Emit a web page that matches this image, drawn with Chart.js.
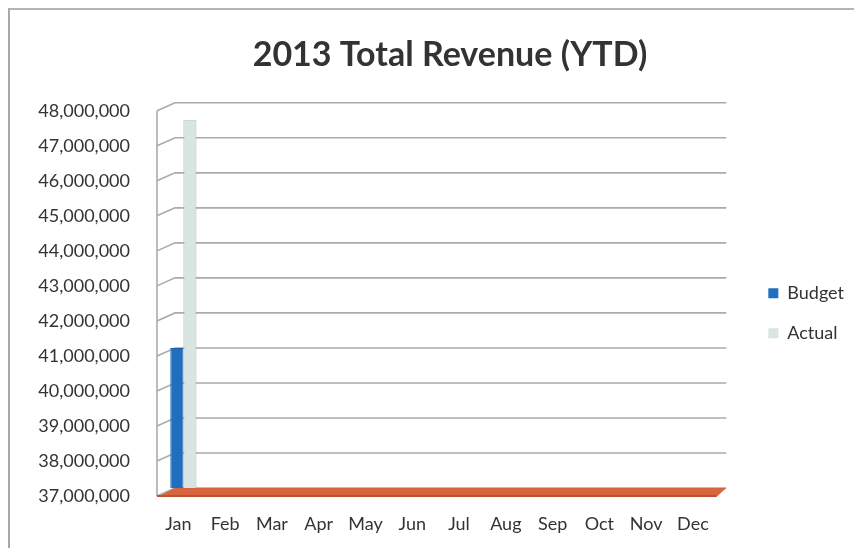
<!DOCTYPE html>
<html>
<head>
<meta charset="utf-8">
<title>2013 Total Revenue (YTD)</title>
<script src="https://cdn.jsdelivr.net/npm/chart.js@4.4.1/dist/chart.umd.min.js"></script>
<style>
  html, body { margin: 0; padding: 0; background: #fff; overflow: hidden; }
  #frame {
    position: absolute; left: 8px; top: 8px;
    width: 846px; height: 540px;
    border-left: 2px solid #a8a8a8;
    border-top: 2px solid #b4b4b4;
  }
  #revenue { display: block; }
</style>
</head>
<body>
<div id="frame"><canvas id="revenue" width="844" height="538"></canvas></div>
<script>
// months on the category axis
var months = ['Jan', 'Feb', 'Mar', 'Apr', 'May', 'Jun', 'Jul', 'Aug', 'Sep', 'Oct', 'Nov', 'Dec'];
// only January is reported so far
var budget = [41000000, null, null, null, null, null, null, null, null, null, null, null];
var actual = [47500000, null, null, null, null, null, null, null, null, null, null, null];
var yMin = 37000000;
var yMax = 48000000;
var yStep = 1000000;

var textColor = '#333333';

// fake 3D walls: slanted left wall, back gridlines and the red floor
var wallPlugin = {
    id: 'wall3d',
    afterLayout: function(chart) {
        // let the long y labels use the left padding instead of being clipped
        chart.scales.y.left = 0;
    },
    beforeDatasetsDraw: function(chart) {
        var ctx = chart.ctx;
        var area = chart.chartArea;
        var y = chart.scales.y;
        var dx = 18, dy = 8;
        var frontLeft = area.left - 3;
        ctx.save();
        ctx.strokeStyle = '#ababab';
        ctx.lineWidth = 1.6;
        y.ticks.forEach(function(t) {
            var py = y.getPixelForValue(t.value);
            ctx.beginPath();
            ctx.moveTo(frontLeft, py + dy);
            ctx.lineTo(frontLeft + dx, py);
            ctx.lineTo(area.right + 5, py);
            ctx.stroke();
        });
        // front edge of the left wall
        ctx.beginPath();
        ctx.moveTo(frontLeft, y.getPixelForValue(yMax) + dy);
        ctx.lineTo(frontLeft, area.bottom + dy);
        ctx.stroke();

        // floor
        ctx.fillStyle = '#d9653f';
        ctx.beginPath();
        ctx.moveTo(frontLeft, area.bottom + dy + 1);
        ctx.lineTo(frontLeft + dx, area.bottom);
        ctx.lineTo(area.right + 5, area.bottom);
        ctx.lineTo(area.right - 5, area.bottom + dy + 1);
        ctx.closePath();
        ctx.fill();
        ctx.fillStyle = '#bb5231';
        ctx.fillRect(frontLeft, area.bottom + dy - 1, area.right - 5 - frontLeft, 2);
        ctx.restore();
    }
};

var ctx = document.getElementById('revenue').getContext('2d');
var chart = new Chart(ctx, {
    type: 'bar',
    data: {
        labels: months,
        datasets: [{
            label: 'Budget',
            data: budget,
            backgroundColor: '#1f6fc0',
            borderColor: '#1a5ea6',
            borderWidth: 1,
            categoryPercentage: 0.56,
            barPercentage: 1.0
        }, {
            label: 'Actual',
            data: actual,
            backgroundColor: '#d8e5e3',
            borderColor: '#a9bab7',
            borderWidth: 1,
            categoryPercentage: 0.56,
            barPercentage: 1.0
        }]
    },
    options: {
        responsive: false,
        animation: false,
        layout: { padding: { left: 36, right: 0, top: 0, bottom: 0 } },
        plugins: {
            title: {
                display: true,
                text: '2013 Total Revenue (YTD)',
                color: textColor,
                font: { family: 'Lato', size: 34, weight: 'bold' },
                padding: { top: 25, bottom: 27 }
            },
            legend: {
                position: 'right',
                // blank title pushes the two entries down a bit
                title: { display: true, text: ' ', font: { size: 18 }, padding: { top: 47, bottom: 0 } },
                labels: {
                    color: textColor,
                    font: { family: 'Lato', size: 18 },
                    boxWidth: 10,
                    boxHeight: 10,
                    padding: 22,
                    generateLabels: function(c) {
                        var items = Chart.defaults.plugins.legend.labels.generateLabels(c);
                        items.forEach(function(it) { it.lineWidth = 0; });
                        return items;
                    }
                }
            },
            tooltip: { enabled: false }
        },
        scales: {
            x: {
                grid: { display: false, drawTicks: false },
                border: { display: false },
                ticks: {
                    color: textColor,
                    font: { family: 'Lato', size: 18 },
                    padding: 25,
                    labelOffset: -5,
                    maxRotation: 0,
                    autoSkip: false
                },
                afterFit: function(scale) { scale.height = 60; }
            },
            y: {
                min: yMin,
                max: yMax,
                grid: { display: false, drawTicks: false },
                border: { display: false },
                ticks: {
                    stepSize: yStep,
                    color: textColor,
                    font: { family: 'Lato', size: 18 },
                    padding: 30,
                    labelOffset: 8,
                    callback: function(v) { return v.toLocaleString('en-US'); }
                },
                afterFit: function(scale) { scale.width = 114; }
            },
            // empty axis that keeps a gap between the plot and the legend
            gap: {
                type: 'linear',
                position: 'right',
                display: true,
                grid: { display: false, drawTicks: false },
                border: { display: false },
                ticks: { display: false },
                afterFit: function(scale) { scale.width = 25; }
            }
        }
    },
    plugins: [wallPlugin]
});
</script>
</body>
</html>
